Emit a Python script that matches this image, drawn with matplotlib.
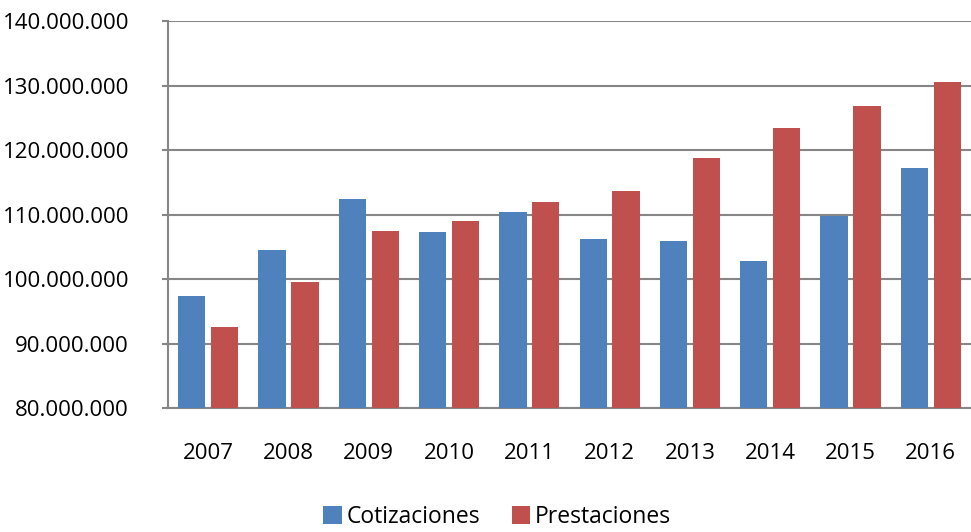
import numpy as np
import matplotlib
matplotlib.use('Agg')
import matplotlib.pyplot as plt
from matplotlib.ticker import FuncFormatter

# Cotizaciones vs Prestaciones, 2007-2016
years = ['2007', '2008', '2009', '2010', '2011', '2012', '2013', '2014', '2015', '2016']
cotizaciones = [97.4e6, 104.5e6, 112.4e6, 107.3e6, 110.4e6, 106.2e6, 105.9e6, 102.8e6, 109.8e6, 117.2e6]
prestaciones = [92.6e6, 99.5e6, 107.4e6, 109.0e6, 111.9e6, 113.6e6, 118.7e6, 123.4e6, 126.8e6, 130.6e6]

plt.rcParams['font.family'] = ['Open Sans', 'DejaVu Sans']

fig = plt.figure(figsize=(9.71, 5.32), dpi=100)
ax = fig.add_axes([0.173, 0.233, 0.827, 0.7275])

x = np.arange(len(years))
w = 0.34
ax.bar(x - 0.205, cotizaciones, w, color='#4F81BD', label='Cotizaciones', zorder=3)
ax.bar(x + 0.205, prestaciones, w, color='#C0504D', label='Prestaciones', zorder=3)

ax.set_xlim(-0.5, 9.5)
ax.set_ylim(80e6, 140e6)
ax.set_yticks(np.arange(80e6, 140e6 + 1, 10e6))
ax.yaxis.set_major_formatter(FuncFormatter(lambda v, p: f'{int(v):,}'.replace(',', '.')))
ax.set_xticks(x)
ax.set_xticklabels(years)

ax.grid(axis='y', color='#868686', linewidth=1.5, zorder=0)
for s in ['top', 'right']:
    ax.spines[s].set_visible(False)
for s in ['left', 'bottom']:
    ax.spines[s].set_color('#868686')
    ax.spines[s].set_linewidth(1.5)
ax.tick_params(axis='y', length=4, width=1.5, color='#868686', labelsize=16, pad=24)
ax.tick_params(axis='x', length=0, labelsize=16, pad=25)

fig.legend(loc='center', bbox_to_anchor=(0.512, 0.028), ncol=2, frameon=False,
           fontsize=16.5, handlelength=0.8, handleheight=0.8, handletextpad=0.2,
           columnspacing=1.4)

fig.savefig('out.png', dpi=100)
